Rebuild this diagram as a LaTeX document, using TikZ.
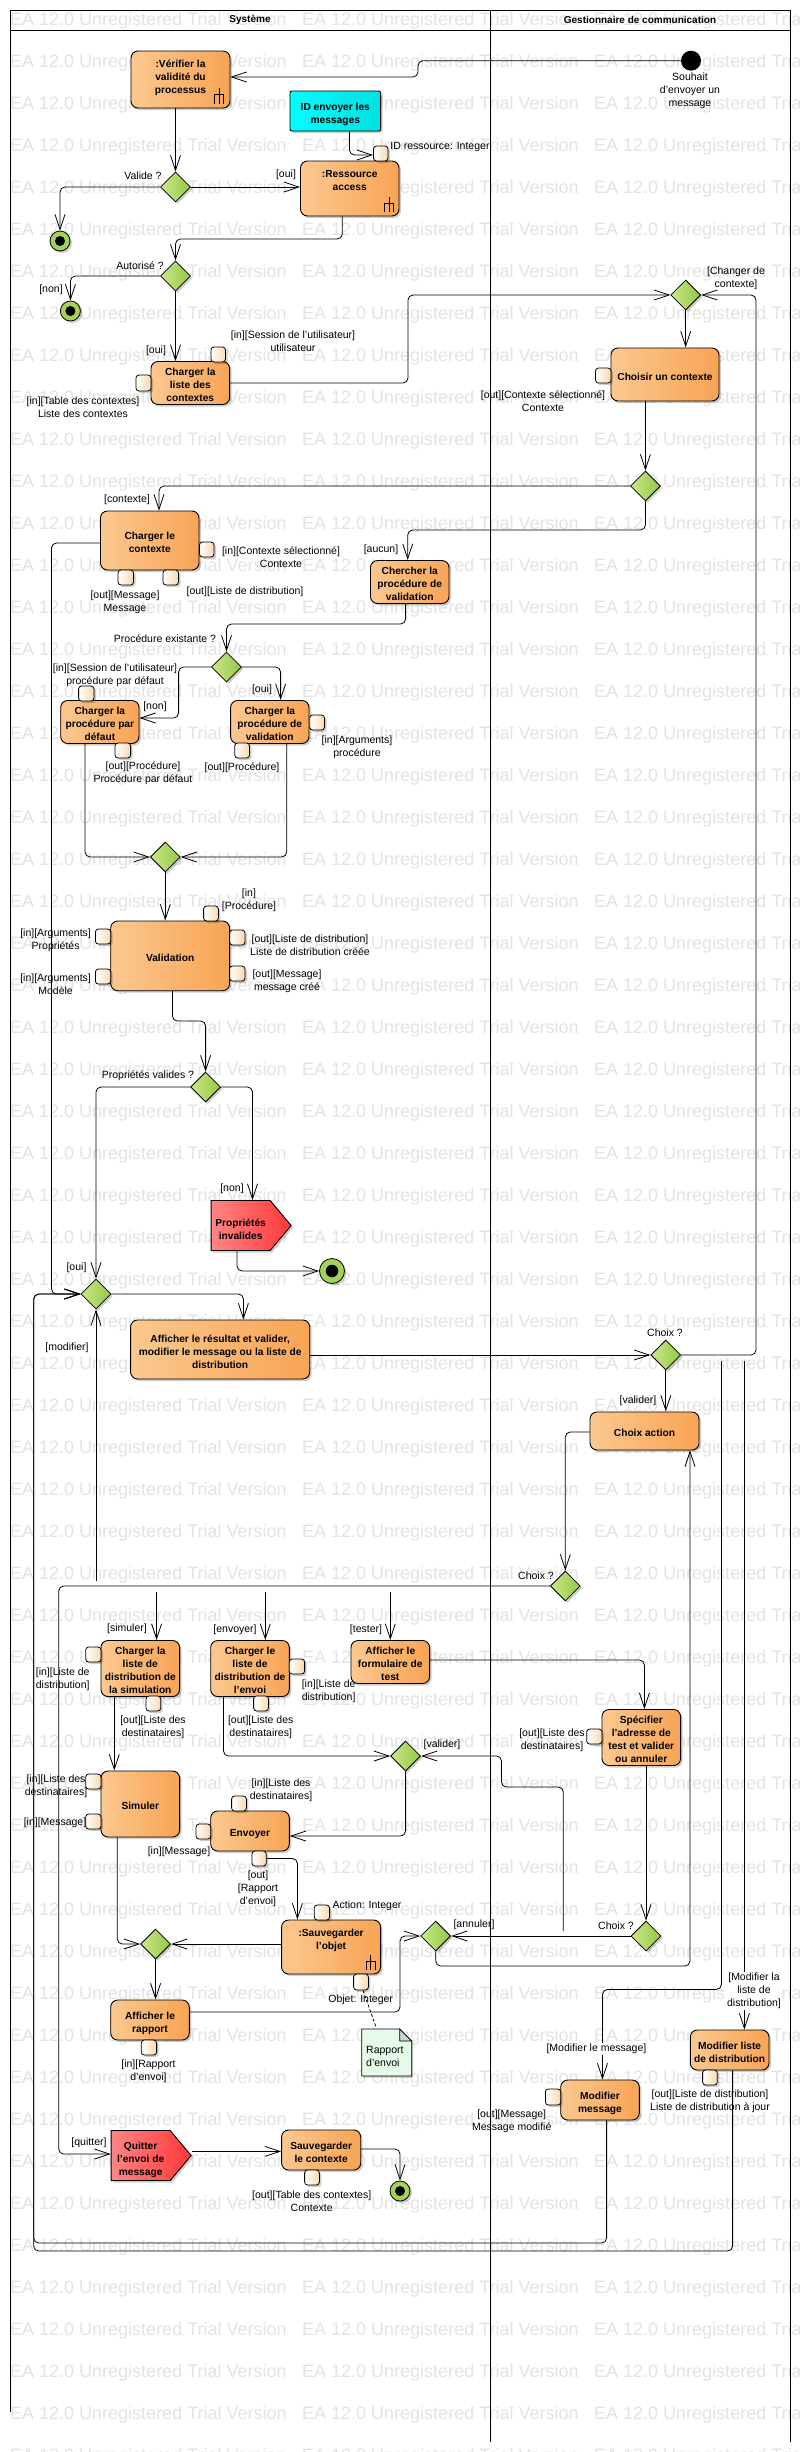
\documentclass[tikz,border=0pt]{standalone}
\usepackage{fontspec}
\setmainfont{Liberation Sans}
\usetikzlibrary{arrows.meta,shapes.geometric,shapes.symbols,shadows}
\definecolor{boxL}{HTML}{FBC88F}
\definecolor{boxR}{HTML}{F8A455}
\definecolor{decL}{HTML}{CDE68A}
\definecolor{decR}{HTML}{92C945}
\definecolor{pinR}{HTML}{F8D9B0}
\definecolor{redL}{HTML}{FF8585}
\definecolor{redR}{HTML}{FF3838}
\definecolor{cyanL}{HTML}{00FFFF}
\definecolor{cyanR}{HTML}{00E0E0}
\definecolor{noteF}{HTML}{E6FAE9}
\definecolor{noteD}{HTML}{C3D9CE}
\definecolor{endG}{HTML}{A3D15A}
\tikzset{
  softshadow/.style={drop shadow={shadow xshift=2pt,shadow yshift=-2pt,fill=black,opacity=.2}},
  act/.style={draw=black,line width=.9pt,rounded corners=7pt,left color=boxL,right color=boxR,softshadow,
    inner sep=0pt,align=center,font=\fontsize{10.2}{13}\selectfont\bfseries},
  pinbox/.style={draw=black,line width=.8pt,rounded corners=3pt,left color=white,right color=pinR,softshadow,inner sep=0pt},
  dec/.style={diamond,aspect=1,draw=black,line width=.8pt,minimum size=30pt,inner sep=0pt,left color=decL,right color=decR,softshadow},
  flow/.style={draw=black,line width=.8pt,rounded corners=5pt,-{Straight Barb[length=15pt,width=10pt,line width=.8pt]}},
  lbl/.style={inner sep=0pt,align=center,text=black,font=\fontsize{10.5}{13}\selectfont},
  redsig/.style={signal,signal to=east,signal pointer angle=100,draw=black,line width=.9pt,left color=redL,right color=redR,softshadow,
    anchor=west,inner sep=1pt,align=center,font=\fontsize{10.2}{13}\selectfont\bfseries},
  wm/.style={anchor=west,inner sep=0pt,text=black!11,font=\fontsize{18}{20}\selectfont},
  lane/.style={draw=black,line width=.9pt},
  finalnode/.style={circle,draw=black,line width=.8pt,fill=endG,inner sep=0pt,softshadow}
}
\newcommand\TopS{\rule{0pt}{14pt}}
\newcommand\BotS{\rule[-3pt]{0pt}{3pt}}
\newcommand\UpS[1]{\rule[-#1pt]{0pt}{#1pt}}
\newcommand\boxn[7][act]{\pgfmathsetmacro\Acx{(#3+#5)/2}\pgfmathsetmacro\Acy{(#4+#6)/2}\pgfmathsetmacro\Aww{#5-#3}\pgfmathsetmacro\Ahh{#6-#4}\node[#1,minimum width=\Aww pt,minimum height=\Ahh pt] (#2) at (\Acx,\Acy) {\TopS #7\BotS};}
\newcommand\pinn[5]{\pgfmathsetmacro\Acx{(#2+#4)/2}\pgfmathsetmacro\Acy{(#3+#5)/2}\pgfmathsetmacro\Aww{#4-#2}\pgfmathsetmacro\Ahh{#5-#3}\node[pinbox,minimum width=\Aww pt,minimum height=\Ahh pt] (#1) at (\Acx,\Acy) {};}
\newcommand\rakeicon[3]{\pgfmathsetmacro\Rm{#2+0.42*(#3-#2)}\draw[line width=.8pt] (#1,#2) -- (#1,#3) (#1-4.5,#3) -- (#1-4.5,\Rm) -- (#1+4.5,\Rm) -- (#1+4.5,#3);}
\newcommand\finalcirc[4]{\node[finalnode,minimum size=#4 pt] (#1) at (#2,#3) {}; \fill[black] (#1) circle ({#4*0.25});}
\newcommand\lb[4]{\node[lbl] (#1) at (#2,#3) {#4};}
\begin{document}
\begin{tikzpicture}[x=1pt,y=-1pt]
\useasboundingbox (0,0) rectangle (800,2452);
\fill[white] (0,0) rectangle (800,2452);
% watermark
\begin{scope}
\clip (0,0) rectangle (800,2452);
\foreach \k in {0,...,58}{
  \foreach \c in {0,1,2}{
    \pgfmathsetmacro\wx{10+292*\c}
    \pgfmathsetmacro\wy{21+42*\k}
    \node[wm] (wm-\k-\c) at (\wx,\wy) {EA 12.0 Unregistered Trial Version};
  }
}
\end{scope}
% swimlanes
\draw[lane] (10,2412) -- (10,10) -- (790,10) -- (790,2442);
\draw[lane] (10,30) -- (790,30);
\draw[lane] (490,10) -- (490,2442);
\node[lbl,font=\fontsize{10}{13}\selectfont\bfseries] (laneA) at (250,20) {Système};
\node[lbl,font=\fontsize{10}{13}\selectfont\bfseries] (laneB) at (640,20) {Gestionnaire de communication};

% start / ends
\node[circle,fill=black,minimum size=20pt,inner sep=0pt] (start) at (691,60.7) {};
\lb{lstart}{690}{91}{Souhait\\d'envoyer un\\message}
\finalcirc{f1}{60}{241}{20}
\finalcirc{f2}{70.4}{311}{20}
\finalcirc{f3}{332}{1271}{25}
\finalcirc{f4}{400}{2191}{20}

% note
\path[draw=black,line width=.8pt,fill=noteF,drop shadow={shadow xshift=1.5pt,shadow yshift=-1.5pt,fill=black,opacity=.2}] (361.7,2029) -- (399.7,2029) -- (411.7,2041) -- (411.7,2076) -- (361.7,2076) -- cycle;
\path[draw=black,line width=.8pt,fill=noteD] (399.7,2029) -- (399.7,2041) -- (411.7,2041) -- cycle;
\node[lbl,align=left,anchor=west] (noteT) at (366,2056) {Rapport\\d'envoi};
\coordinate (noteTop) at (376,2027);

% activities
\boxn{verif}{131}{51}{230}{108}{:Vérifier la\\validité du\\processus\UpS{12}}
\boxn[act,left color=cyanL,right color=cyanR,rounded corners=2pt]{cyanb}{290}{91}{380.6}{131}{ID envoyer les\\messages}
\boxn{res}{300.5}{161}{399}{216}{:Ressource\\access\UpS{23}}
\boxn{cliste}{151}{362}{229.6}{404}{Charger la\\liste des\\contextes}
\boxn{chois}{611}{348}{719}{401}{Choisir un contexte}
\boxn{cctx}{100.5}{511}{199}{570}{Charger le\\contexte}
\boxn{cher}{370.5}{561}{449}{603}{Chercher la\\procédure de\\validation}
\boxn{cdef}{60.7}{701}{139}{743}{Charger la\\procédure par\\défaut}
\boxn{cval}{230.6}{701}{309}{743}{Charger la\\procédure de\\validation}
\boxn{val}{110.7}{921}{229.6}{990.7}{Validation}
\boxn{aff}{130.6}{1320}{309.7}{1379}{Afficher le résultat et valider,\\modifier le message ou la liste de\\distribution}
\boxn{choixa}{590}{1412}{699}{1450}{Choix action}
\boxn{csim}{101}{1641}{179.6}{1696}{Charger la\\liste de\\distribution de\\la simulation}
\boxn{cenv}{210.7}{1641}{289.3}{1696}{Charger le\\liste de\\distribution de\\l'envoi}
\boxn{form}{351}{1641}{429.6}{1683}{Afficher le\\formulaire de\\test}
\boxn{spec}{602}{1710}{680.6}{1765}{Spécifier\\l'adresse de\\test et valider\\ou annuler}
\boxn{simu}{101}{1771}{179.6}{1837}{Simuler}
\boxn{env}{210.7}{1811}{289.3}{1851}{Envoyer}
\boxn{sauv}{281.6}{1920}{380.6}{1974}{:Sauvegarder\\l'objet\UpS{22}}
\boxn{rap}{110.7}{2000}{189.3}{2040}{Afficher le\\rapport}
\boxn{ssave}{281.6}{2130}{360.7}{2170}{Sauvegarder\\le contexte}
\boxn{mliste}{690.3}{2030}{769}{2070}{Modifier liste\\de distribution}
\boxn{mmsg}{560.7}{2080}{639.3}{2120}{Modifier\\message}

% signals
\node[redsig,minimum width=80pt,minimum height=50pt] (prop) at (210.7,1225.5) {\rule{0pt}{16pt}Propriétés\\invalides};
\node[redsig,minimum width=80pt,minimum height=50pt] (quit) at (110.7,2155.5) {\rule{0pt}{16pt}Quitter\\l'envoi de\\message};

% rakes
\rakeicon{219}{88}{104}
\rakeicon{389}{197}{212}
\rakeicon{370.4}{1955}{1970}

% pins
\pinn{p1}{373.5}{146}{388}{161}
\pinn{p2}{211}{347}{225.5}{362}
\pinn{p3}{136}{375}{151}{391}
\pinn{p4}{595.5}{368}{611}{383}
\pinn{p5}{199.5}{542}{214}{557}
\pinn{p6}{118}{570}{133.5}{585}
\pinn{p7}{163}{570}{178.5}{585}
\pinn{p8}{78.6}{686}{94}{701}
\pinn{p9}{115}{743}{130.6}{758}
\pinn{p10}{309.7}{715}{324.5}{730}
\pinn{p11}{234.7}{743}{249.5}{758}
\pinn{p12}{203.6}{906}{218.4}{921}
\pinn{p13}{95.4}{929}{110.7}{944}
\pinn{p14}{95.4}{969}{110.7}{984}
\pinn{p15}{229.6}{930}{245}{945}
\pinn{p16}{229.6}{966}{245}{981}
\pinn{p17}{85.7}{1647}{101}{1662}
\pinn{p18}{146}{1696}{160.7}{1711}
\pinn{p19}{289.3}{1659}{304.6}{1674}
\pinn{p20}{253.6}{1696}{268.4}{1711}
\pinn{p21}{85.7}{1774}{101}{1789}
\pinn{p22}{85.7}{1814}{101}{1829}
\pinn{p23}{231.6}{1796}{246.4}{1811}
\pinn{p24}{196}{1824}{210.7}{1839}
\pinn{penvb}{252}{1851}{266.3}{1866}
\pinn{p26}{314.3}{1905}{329.6}{1920}
\pinn{p27}{353.6}{1974}{368.4}{1990}
\pinn{p28}{141.3}{2040}{156.6}{2055}
\pinn{p29}{304.6}{2170}{319.4}{2185}
\pinn{p30}{702.6}{2070}{717.3}{2085}
\pinn{p31}{545.4}{2089}{560.7}{2105}
\pinn{p32}{586.7}{1729}{602}{1744}

% decisions
\node[dec] (d1) at (175.5,187) {};
\node[dec] (d2) at (175.5,276) {};
\node[dec] (d3) at (685.7,295) {};
\node[dec] (d4) at (645.4,486) {};
\node[dec] (d5) at (96,1294) {};
\node[dec] (d6) at (226.5,667) {};
\node[dec] (d7) at (165.3,857) {};
\node[dec] (d8) at (205.6,1087) {};
\node[dec] (d9) at (665.8,1355) {};
\node[dec] (d10) at (565.3,1586) {};
\node[dec] (d11) at (155.6,1944) {};
\node[dec] (d12) at (435.7,1936) {};
\node[dec] (d13) at (405.6,1756) {};
\node[dec] (d14) at (646,1936) {};

% free ends
\coordinate (fMod) at (96,1581);
\coordinate (fSim) at (156.6,1592);
\coordinate (fEnv) at (265.3,1592);
\coordinate (fTes) at (390.3,1592);
\coordinate (fVal) at (563.3,1931);
\coordinate (fML) at (744.4,1361);
\coordinate (fMM) at (721.4,1361);

% connectors
\draw[flow] (start.west) -- (418,60.7) -- (418,77) -- (verif.east |- 0,77);
\draw[flow] (verif.south -| d1) -- (d1.north);
\draw[flow] (d1.east) -- (res.west |- d1);
\draw[flow] (d1.west) -- (60,187) -- (f1.north);
\draw[flow] (cyanb.south -| 349.5,0) -- (349.5,155) -- (p1.west |- 0,155);
\draw[flow] (res.south -| 342.3,0) -- (342.3,239) -- (175.5,239) -- (d2.north);
\draw[flow] (d2.south) -- (cliste.north -| d2);
\draw[flow] (d2.west) -- (70.4,276) -- (f2.north);
\draw[flow] (cliste.east |- 0,383) -- (408,383) -- (408,295) -- (d3.west);
\draw[flow] (d3.south) -- (chois.north -| d3);
\draw[flow] (chois.south -| d4) -- (d4.north);
\draw[flow] (d4.west) -- (159,486) -- (cctx.north -| 159,0);
\draw[flow] (d4.south) -- (645.4,530) -- (407.7,530) -- (cher.north -| 407.7,0);
\draw[flow] (cher.south -| 405.6,0) -- (405.6,624) -- (226.5,624) -- (d6.north);
\draw[flow] (d6.west) -- (178.6,667) -- (178.6,718) -- (cdef.east |- 0,718);
\draw[flow] (d6.east) -- (280.6,667) -- (cval.north -| 280.6,0);
\draw[flow] (cdef.south -| 85,0) -- (85,857) -- (d7.west);
\draw[flow] (cval.south -| 286.7,0) -- (286.7,857) -- (d7.east);
\draw[flow] (d7.south) -- (val.north -| d7);
\draw[flow] (val.south -| 172.4,0) -- (172.4,1021) -- (205.6,1021) -- (d8.north);
\draw[flow] (d8.west) -- (96,1087) -- (d5.north);
\draw[flow] (d8.east) -- (252.5,1087) -- (prop.north -| 252.5,0);
\draw[flow] (prop.south -| 237,0) -- (237,1271) -- (f3.west);
\draw[flow] (cctx.west |- 0,543) -- (51.5,543) -- (51.5,1294) -- (d5.west);
\draw[flow] (fMod) -- (d5.south);
\draw[flow] (d5.east) -- (243.4,1294) -- (aff.north -| 243.4,0);
\draw[flow] (aff.east |- 0,1355) -- (d9.west);
\draw[flow] (d9.east) -- (756,1355) -- (756,295) -- (d3.east);
\draw[flow] (d9.south) -- (choixa.north -| d9);
\draw[flow] (choixa.west |- 0,1432) -- (565.3,1432) -- (d10.north);
\draw[flow] (d10.west) -- (58.7,1586) -- (58.7,2154) -- (quit.west |- 0,2154);
\draw[flow] (fSim) -- (csim.north -| fSim);
\draw[flow] (fEnv) -- (cenv.north -| fEnv);
\draw[flow] (fTes) -- (form.north -| fTes);
\draw[flow] (csim.south -| 114.3,0) -- (simu.north -| 114.3,0);
\draw[flow] (simu.south -| 117.3,0) -- (117.3,1944) -- (d11.west);
\draw[flow] (cenv.south -| 223.5,0) -- (223.5,1756) -- (d13.west);
\draw[flow] (fVal) -- (563.3,1787) -- (501.5,1787) -- (501.5,1756) -- (d13.east);
\draw[flow] (d13.south) -- (405.6,1836) -- (env.east |- 0,1836);
\draw[flow] (penvb.east) -- (297.4,1858.5) -- (sauv.north -| 297.4,0);
\draw[flow] (sauv.west |- d11) -- (d11.east);
\draw[flow] (d11.south) -- (rap.north -| d11);
\draw[flow] (rap.east |- 0,2012) -- (400,2012) -- (400,1936) -- (d12.west);
\draw[flow] (form.east |- 0,1660) -- (644.4,1660) -- (spec.north -| 644.4,0);
\draw[flow] (spec.south -| d14) -- (d14.north);
\draw[flow] (d14.west) -- (d12.east);
\draw[flow] (d12.south) -- (435.7,1966) -- (690,1966) -- (choixa.south -| 690,0);
\draw[flow] (fML) -- (mliste.north -| fML);
\draw[flow] (fMM) -- (721.4,1989.4) -- (602.5,1989.4) -- (mmsg.north -| 602.5,0);
\draw[flow] (mmsg.south -| 606.6,0) -- (606.6,2243) -- (33.7,2243) -- (33.7,1294) -- (d5.west);
\draw[flow] (mliste.south -| 732.6,0) -- (732.6,2251) -- (33.7,2251) -- (33.7,1294) -- (d5.west);
\draw[flow] (quit.east |- 0,2151.4) -- (ssave.west |- 0,2151.4);
\draw[flow] (ssave.east |- 0,2149) -- (400,2149) -- (f4.north);
\draw[line width=.8pt,densely dashed] (p27.south -| 363,0) -- (noteTop);

% labels
\lb{l1}{143}{176}{Valide ?}
\lb{l2}{286}{175}{[oui]}
\lb{l3}{440}{147}{ID ressource: Integer}
\lb{l4}{140}{266}{Autorisé ?}
\lb{l5}{51}{290}{[non]}
\lb{l6}{156}{351}{[oui]}
\lb{l7}{293}{341.5}{[in][Session de l'utilisateur]\\utilisateur}
\lb{l8}{83}{407.5}{[in][Table des contextes]\\Liste des contextes}
\lb{l9}{736}{278.5}{[Changer de\\contexte]}
\lb{l10}{543}{401.5}{[out][Contexte sélectionné]\\Contexte}
\lb{l11}{127}{500}{[contexte]}
\lb{l12}{281}{557.5}{[in][Contexte sélectionné]\\Contexte}
\lb{l13}{125}{602.5}{[out][Message]\\Message}
\lb{l14}{245}{592}{[out][Liste de distribution]}
\lb{l15}{381}{550}{[aucun]}
\lb{l16}{165}{639}{Procédure existante ?}
\lb{l17}{155}{707}{[non]}
\lb{l18}{262}{690}{[oui]}
\lb{l19}{115}{675.5}{[in][Session de l'utilisateur]\\procédure par défaut}
\lb{l20}{143}{773.5}{[out][Procédure]\\Procédure par défaut}
\lb{l21}{357}{747.5}{[in][Arguments]\\procédure}
\lb{l22}{242}{768}{[out][Procédure]}
\lb{l23}{249}{900.5}{[in]\\[0pt][Procédure]}
\lb{l24}{55.6}{940.5}{[in][Arguments]\\Propriétés}
\lb{l25}{55.6}{984.5}{[in][Arguments]\\Modèle}
\lb{l26}{310}{945.5}{[out][Liste de distribution]\\Liste de distribution créée}
\lb{l27}{287}{981.5}{[out][Message]\\message créé}
\lb{l28}{148}{1076}{Propriétés valides ?}
\lb{l29}{76.5}{1268}{[oui]}
\lb{l30}{232}{1189}{[non]}
\lb{l31}{67}{1348}{[modifier]}
\lb{l32}{665}{1333}{Choix ?}
\lb{l33}{638}{1401}{[valider]}
\lb{l34}{536}{1576}{Choix ?}
\lb{l35}{127}{1629}{[simuler]}
\lb{l36}{235}{1630}{[envoyer]}
\lb{l37}{366}{1630}{[tester]}
\lb{l38}{62.7}{1679.5}{[in][Liste de\\distribution]}
\lb{l39}{153}{1727.5}{[out][Liste des\\destinataires]}
\lb{l40}{328.6}{1691.5}{[in][Liste de\\distribution]}
\lb{l41}{260.7}{1727.5}{[out][Liste des\\destinataires]}
\lb{l42}{552}{1740.5}{[out][Liste des\\destinataires]}
\lb{l43}{442}{1745}{[valider]}
\lb{l44}{56}{1786.5}{[in][Liste des\\destinataires]}
\lb{l45}{55}{1823}{[in][Message]}
\lb{l46}{281}{1790.5}{[in][Liste des\\destinataires]}
\lb{l47}{179}{1852}{[in][Message]}
\lb{l48}{258}{1889}{[out]\\[0pt][Rapport\\d'envoi]}
\lb{l49}{367}{1906}{Action: Integer}
\lb{l50}{360.7}{2000}{Objet: Integer}
\lb{l51}{474}{1925}{[annuler]}
\lb{l52}{616}{1926}{Choix ?}
\lb{l53}{148.5}{2071.5}{[in][Rapport\\d'envoi]}
\lb{l54}{89}{2143}{[quitter]}
\lb{l55}{311.7}{2201.5}{[out][Table des contextes]\\Contexte}
\node[lbl,fill=white,inner sep=1pt] (l56) at (754,1991) {[Modifier la\\liste de\\distribution]};
\node[lbl,fill=white,inner sep=1pt] (l57) at (596.4,2049) {[Modifier le message]};
\lb{l58}{710}{2101.5}{[out][Liste de distribution]\\Liste de distribution à jour}
\lb{l59}{511.7}{2121.5}{[out][Message]\\Message modifié}
\end{tikzpicture}
\end{document}
